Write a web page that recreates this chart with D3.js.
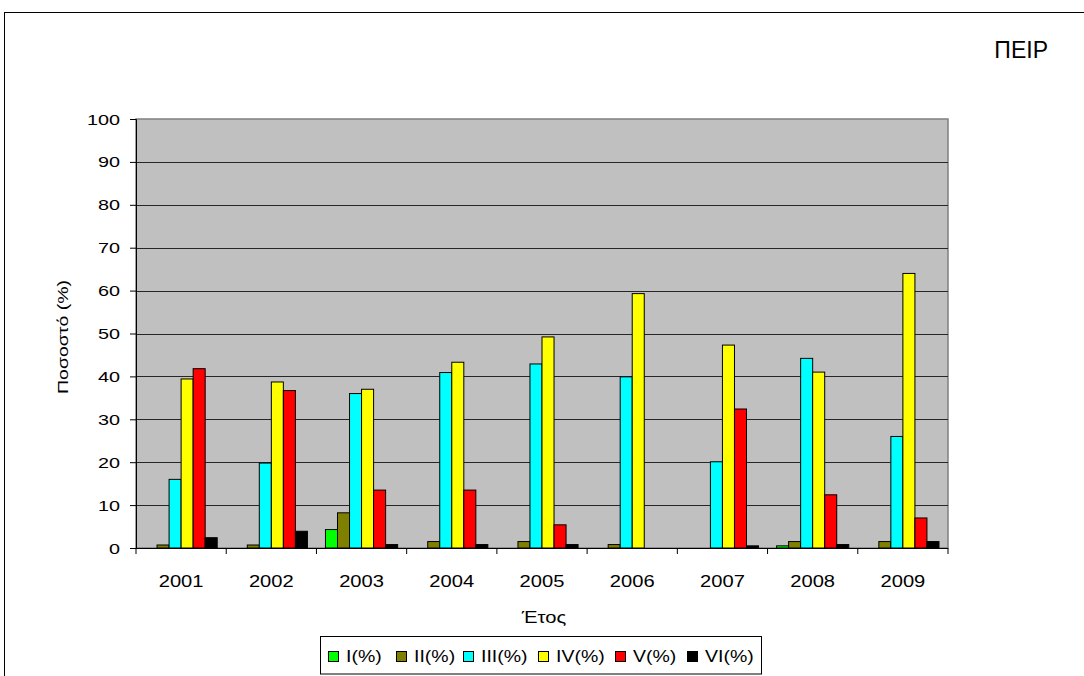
<!DOCTYPE html>
<html>
<head>
<meta charset="utf-8">
<script src="https://cdn.jsdelivr.net/npm/d3@7"></script>
<style>
  html, body { margin: 0; padding: 0; background: #fff; }
  svg { display: block; font-family: "Liberation Sans", Arial, sans-serif; }
</style>
</head>
<body>
<script>
// Percentage of each class per year
const years = ["2001", "2002", "2003", "2004", "2005", "2006", "2007", "2008", "2009"];
const seriesNames = ["I(%)", "II(%)", "III(%)", "IV(%)", "V(%)", "VI(%)"];
const seriesColors = ["#00ff00", "#808000", "#00ffff", "#ffff00", "#ff0000", "#000000"];
const valuesI   = [0,    0,    4.3,  0,    0,    0,    0,    0.5,  0];
const valuesII  = [0.7,  0.7,  8.2,  1.5,  1.5,  0.8,  0,    1.5,  1.5];
const valuesIII = [16.0, 19.8, 36.0, 40.9, 42.9, 39.9, 20.1, 44.2, 26.0];
const valuesIV  = [39.4, 38.7, 37.0, 43.3, 49.2, 59.3, 47.3, 41.0, 64.0];
const valuesV   = [41.8, 36.7, 13.5, 13.5, 5.4,  0,    32.4, 12.4, 7.0];
const valuesVI  = [2.4,  3.9,  0.8,  0.8,  0.8,  0,    0.5,  0.8,  1.5];
const yTicks = [0, 10, 20, 30, 40, 50, 60, 70, 80, 90, 100];

const allValues = [valuesI, valuesII, valuesIII, valuesIV, valuesV, valuesVI];

const W = 1084, H = 676;
const svg = d3.select("body").append("svg").attr("width", W).attr("height", H);

// wide-set label text: horizontally stretched glyphs
const WIDE = 1.28;
function label(parent, txt, x, y, opts = {}) {
  const size = opts.size || 15;
  const stretch = opts.stretch || WIDE;
  const rot = opts.rotate || 0;
  return parent.append("text")
    .attr("transform", `translate(${x},${y}) rotate(${rot}) scale(${stretch},1)`)
    .attr("text-anchor", opts.anchor || "start")
    .attr("font-size", size)
    .attr("fill", "#000")
    .text(txt);
}

// outer chart frame
svg.append("rect").attr("x", 4.5).attr("y", 12.5).attr("width", W + 10).attr("height", H + 10)
  .attr("fill", "#fff").attr("stroke", "#000").attr("stroke-width", 1);

const plot = { left: 136, right: 948, top: 119, bottom: 548 };

const x = d3.scaleBand().domain(years).range([plot.left, plot.right]).paddingInner(0).paddingOuter(0);
const y = d3.scaleLinear().domain([0, 100]).range([plot.bottom, plot.top]);

// plot background
svg.append("rect").attr("x", plot.left).attr("y", plot.top)
  .attr("width", plot.right - plot.left).attr("height", plot.bottom - plot.top)
  .attr("fill", "#c0c0c0").attr("stroke", "#808080").attr("stroke-width", 1.5);

// horizontal grid lines
svg.append("g").selectAll("line").data(yTicks.filter(d => d > 0 && d < 100)).join("line")
  .attr("x1", plot.left).attr("x2", plot.right)
  .attr("y1", d => Math.round(y(d)) + 0.5).attr("y2", d => Math.round(y(d)) + 0.5)
  .attr("stroke", "#262626").attr("stroke-width", 1.2);

// bars: 6 series inside each year group, 150% gap between groups
const groupW = x.bandwidth();
const barW = groupW / (seriesNames.length + 1.5);
const groupPad = (groupW - barW * seriesNames.length) / 2;

const barsG = svg.append("g");
allValues.forEach((vals, si) => {
  barsG.append("g").selectAll("rect").data(years.map((yr, i) => ({ yr, v: vals[i] })).filter(d => d.v > 0))
    .join("rect")
    .attr("x", d => x(d.yr) + groupPad + si * barW)
    .attr("y", d => y(d.v))
    .attr("width", barW)
    .attr("height", d => y(0) - y(d.v))
    .attr("fill", seriesColors[si])
    .attr("stroke", "#000").attr("stroke-width", 1);
});

// y axis: line and ticks from d3, labels drawn wide
const yAxis = d3.axisLeft(y).tickValues(yTicks).tickSize(6).tickFormat("");
const yg = svg.append("g").attr("transform", `translate(${plot.left},0)`).call(yAxis);
yg.select(".domain").attr("stroke", "#000");
yg.selectAll(".tick line").attr("stroke", "#000");
yTicks.forEach(t => label(svg, String(t), 120, y(t) + 5.5, { anchor: "end", size: 15, stretch: 1.32 }));

// x axis with ticks between categories
const xg = svg.append("g").attr("transform", `translate(0,${plot.bottom})`);
xg.append("line").attr("x1", plot.left).attr("x2", plot.right).attr("y1", 0.5).attr("y2", 0.5)
  .attr("stroke", "#000");
const boundaries = years.map(d => x(d)).concat([x(years[years.length - 1]) + groupW]);
xg.selectAll("line.tk").data(boundaries).join("line").attr("class", "tk")
  .attr("x1", d => d).attr("x2", d => d).attr("y1", 0).attr("y2", 6).attr("stroke", "#000");
years.forEach(yr => label(svg, yr, x(yr) + groupW / 2, 587, { anchor: "middle", size: 16, stretch: 1.26 }));

// axis titles
label(svg, "Έτος", (plot.left + plot.right) / 2 + 2, 623, { anchor: "middle", size: 16, stretch: 1.26 });
label(svg, "Ποσοστό (%)", 68, 337, { anchor: "middle", size: 15, stretch: 1.3, rotate: -90 });

// title
svg.append("text").attr("x", 1048).attr("y", 58).attr("text-anchor", "end")
  .attr("font-size", 23).text("ΠΕΙΡ");

// legend
const legend = svg.append("g");
legend.append("rect").attr("x", 320.5).attr("y", 636.5).attr("width", 441).attr("height", 37.5)
  .attr("fill", "#fff").attr("stroke", "#000").attr("stroke-width", 1);
const legendX = [328, 396, 463, 538, 615, 687];
seriesNames.forEach((name, i) => {
  legend.append("rect").attr("x", legendX[i] + 0.5).attr("y", 651.5).attr("width", 10).attr("height", 10)
    .attr("fill", seriesColors[i]).attr("stroke", "#000").attr("stroke-width", 1);
  label(legend, name, legendX[i] + 18, 662, { size: 16, stretch: 1.22 });
});
</script>
</body>
</html>
